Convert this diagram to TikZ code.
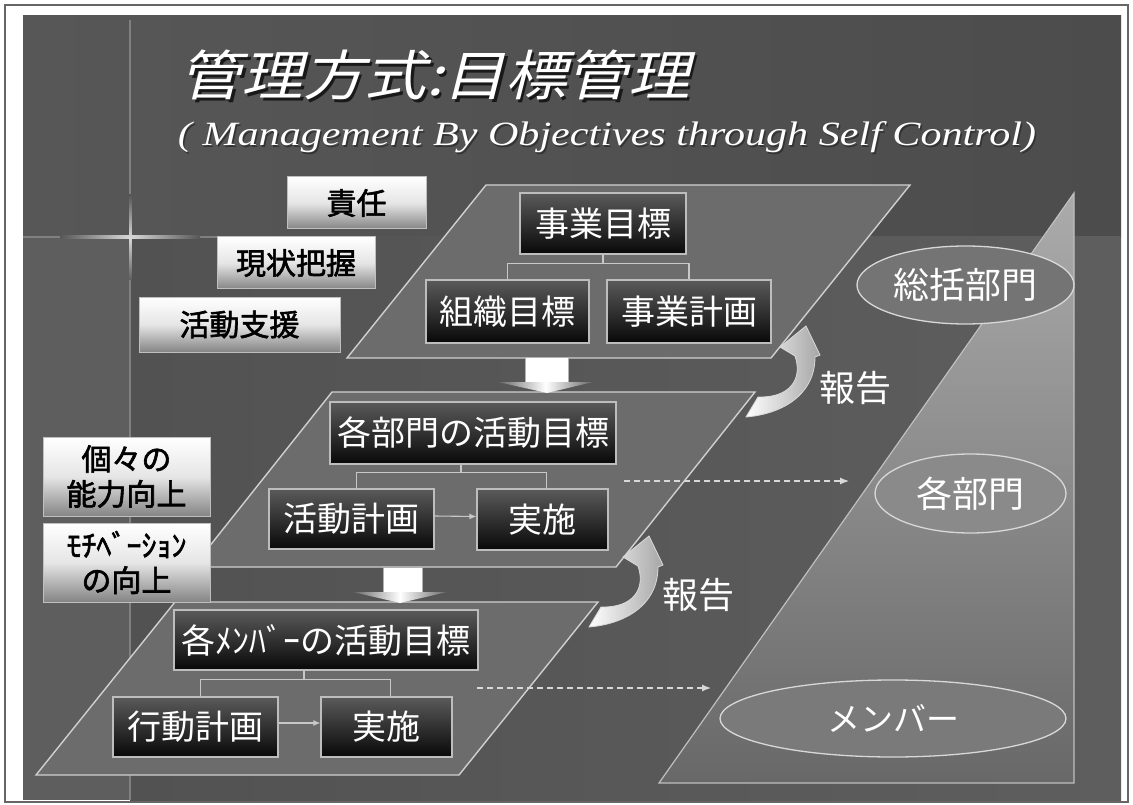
\documentclass[tikz,border=0pt]{standalone}
\usepackage{fontspec}
\usepackage{graphicx}
\usetikzlibrary{shapes.geometric,arrows.meta,calc}
\newfontfamily\jp{Noto Sans CJK JP}
\newfontfamily\jpb[FakeBold=2]{Noto Sans CJK JP}
\newfontfamily\jpsl[FakeSlant=0.22]{Noto Sans CJK JP}
\newfontfamily\lserif{Liberation Serif}
\newcommand\myfs[1]{\fontsize{#1}{#1}\selectfont}
\definecolor{topL}{HTML}{575757}
\definecolor{topR}{HTML}{4C4C4C}
\definecolor{lowL}{HTML}{525252}
\definecolor{lowR}{HTML}{5E5E5E}
\definecolor{stripC}{HTML}{5E5E5E}
\definecolor{paraC}{HTML}{6C6C6C}
\definecolor{paraLine}{HTML}{D0D0D0}
\definecolor{boxLine}{HTML}{BDBDBD}
\definecolor{connC}{HTML}{C8C8C8}
\definecolor{dashC}{HTML}{D8D8D8}
\definecolor{dTop}{HTML}{5A5A5A}
\definecolor{dBot}{HTML}{080808}
\definecolor{triTop}{HTML}{ABABAB}
\definecolor{triMid}{HTML}{8A8A8A}
\definecolor{triBot}{HTML}{686868}
\definecolor{ellA}{HTML}{747474}
\definecolor{ellB}{HTML}{8A8A8A}
\definecolor{ellC}{HTML}{7A7A7A}
\definecolor{ellLine}{HTML}{D8D8D8}
\begin{document}
\begin{tikzpicture}[x=1pt,y=-1pt,
  para/.style={fill=paraC, draw=paraLine, line width=1.4pt},
  dbox/.style={draw=boxLine, line width=1.3pt, top color=dTop, bottom color=dBot,
    text=white, inner sep=0pt, font=\jp\myfs{34}},
  wbox/.style={draw=black!25, line width=1pt, top color=white, bottom color=black!48,
    middle color=white!90!black, text=black, inner sep=0pt, align=center,
    font=\jpb\myfs{30}},
  conn/.style={draw=connC, line width=1.1pt},
  harrow/.style={conn, -{Latex[length=7pt,width=6pt]}},
  darrow/.style={draw=dashC, line width=1.2pt, dash pattern=on 6pt off 4pt,
    -{Latex[length=9pt,width=7pt]}},
  ell/.style={ellipse, draw=ellLine, line width=1.3pt, inner sep=0pt, text=white,
    font=\jp\myfs{36}},
  lbl/.style={text=white, font=\jp\myfs{36}},
  curv/.style={left color=white, right color=black!35, draw=white!85!black, line width=0.8pt},
]
\useasboundingbox (0,0) rectangle (1133,805);
\fill[white] (0,0) rectangle (1133,805);
\draw[black!60, line width=1.2pt] (5,5) rectangle (1128,802);
% slide background
\shade[left color=topL, right color=topR] (23,16) rectangle (1121,237);
\shade[left color=lowL, right color=lowR] (130,237) rectangle (1121,800);
\fill[stripC] (23,237) rectangle (130,800);
\draw[black!50, line width=1.2pt] (130,20) -- (130,800);
\draw[black!50, line width=1.2pt] (23,237) -- (217,237);
\shade[left color=topL, right color=topL, middle color=white!85!black] (60,236) rectangle (200,238.5);
\shade[top color=topL, bottom color=stripC, middle color=white!85!black] (129,195) rectangle (131.5,280);
% big triangle
\path[top color=triTop, bottom color=triBot, middle color=triMid, draw=white!75!black, line width=1.2pt]
  (1074,193) -- (1074,783) -- (659,783) -- cycle;
% parallelograms
\path[para] (486,185) -- (910,185) -- (771,358) -- (347,358) -- cycle;
\path[para] (332,392) -- (755,392) -- (616,567) -- (193,567) -- cycle;
\path[para] (175,602) -- (598,602) -- (459,775) -- (36,775) -- cycle;
% block arrows
\path[fill=white, draw=black!30, line width=0.6pt] (525,357) rectangle (568,382);
\path[left color=black!60, right color=black!60, middle color=white] (498,382) -- (593,382) -- (547,393) -- cycle;
\path[fill=white, draw=black!30, line width=0.6pt] (383,567) rectangle (422,592);
\path[left color=black!60, right color=black!60, middle color=white] (353,592) -- (447,592) -- (400,603) -- cycle;
% left white boxes
\node[wbox, minimum width=139, minimum height=52] (sekinin) at (356.5,203) {責任};
\node[wbox, minimum width=158, minimum height=52] (genjo) at (296,263) {現状把握};
\node[wbox, minimum width=201, minimum height=55] (shien) at (239.5,324.5) {活動支援};
\node[wbox, minimum width=167, minimum height=79, font=\jpb\fontsize{30}{35}\selectfont] (noryoku) at (126.5,476.5) {個々の\\能力向上};
\node[wbox, minimum width=167, minimum height=79, font=\jpb\fontsize{30}{35}\selectfont] (moti) at (126.5,562.5) {ﾓﾁﾍﾞｰｼｮﾝ\\の向上};
% dark boxes
\node[dbox, minimum width=166, minimum height=61] (jmok) at (603,223.5) {事業目標};
\node[dbox, minimum width=163, minimum height=63] (soshiki) at (507.5,311.5) {組織目標};
\node[dbox, minimum width=164, minimum height=63] (jkei) at (689,311.5) {事業計画};
\node[dbox, minimum width=286, minimum height=62] (bumon) at (473,433) {各部門の活動目標};
\node[dbox, minimum width=165, minimum height=60] (akei) at (351.5,519) {活動計画};
\node[dbox, minimum width=131, minimum height=61] (jis1) at (542.5,519.5) {実施};
\node[dbox, minimum width=304, minimum height=60] (mem) at (326,640) {各ﾒﾝﾊﾞｰの活動目標};
\node[dbox, minimum width=165, minimum height=60] (kodo) at (195.5,727) {行動計画};
\node[dbox, minimum width=131, minimum height=60] (jis2) at (386.5,727) {実施};
% connectors
\draw[conn] (jmok.south) -- ++(0,9) coordinate (t1);
\draw[conn] (soshiki.north) |- (t1) -| (jkei.north);
\draw[conn] ($(bumon.south)+(-12,0)$) -- ++(0,8) coordinate (t2);
\draw[conn] ($(akei.north)+(5,0)$) |- (t2) -| ($(jis1.north)+(4,0)$);
\draw[conn] ($(mem.south)+(-22,0)$) -- ++(0,9) coordinate (t3);
\draw[conn] ($(kodo.north)+(5,0)$) |- (t3) -| ($(jis2.north)+(4,0)$);
\draw[harrow] ($(akei.east)+(0,-3)$) -- ($(jis1.west)+(0,-3)$);
\draw[harrow] ($(kodo.east)+(0,-4)$) -- ($(jis2.west)+(0,-4)$);
% dashed arrows
\coordinate (d1s) at (624,481); \coordinate (d1e) at (849,481);
\coordinate (d2s) at (477,688); \coordinate (d2e) at (711,688);
\draw[darrow] (d1s) -- (d1e);
\draw[darrow] (d2s) -- (d2e);
% curved report arrows
\foreach \dx/\dy in {0/0,-157/210}{
  \begin{scope}[shift={(\dx,\dy)}]
    \path[curv] (746,417) .. controls (782,414) and (815,395) .. (815,357)
      -- (820,355) -- (806,326) -- (780,347) -- (795,356)
      .. controls (803,379) and (790,398) .. (758,397) -- cycle;
  \end{scope}
}
\node[lbl] (hok1) at (855,388) {報告};
\node[lbl] (hok2) at (698,595) {報告};
% ellipses
\node[ell, fill=ellA, minimum width=217, minimum height=78] (sokatsu) at (965.5,285) {総括部門};
\node[ell, fill=ellB, minimum width=191, minimum height=79] (kbumon) at (970.5,493.5) {各部門};
\node[ell, fill=ellC, minimum width=346, minimum height=77, font=\jp\myfs{33}] (memba) at (893,718.5) {メンバー};
% title
\node[anchor=base, text=black!90] at (437.5,98.5) {\jpsl\myfs{54}\resizebox{510pt}{\height}{管理方式:目標管理}};
\node[anchor=base, text=white] (title) at (435,96) {\jpsl\myfs{54}\resizebox{510pt}{\height}{管理方式:目標管理}};
\node[anchor=base, text=black!80] at (608.5,147.5) {\lserif\itshape\myfs{34}\resizebox{858pt}{\height}{( Management By Objectives through Self Control)}};
\node[anchor=base, text=white] (sub) at (607,146) {\lserif\itshape\myfs{34}\resizebox{858pt}{\height}{( Management By Objectives through Self Control)}};
\end{tikzpicture}
\end{document}
